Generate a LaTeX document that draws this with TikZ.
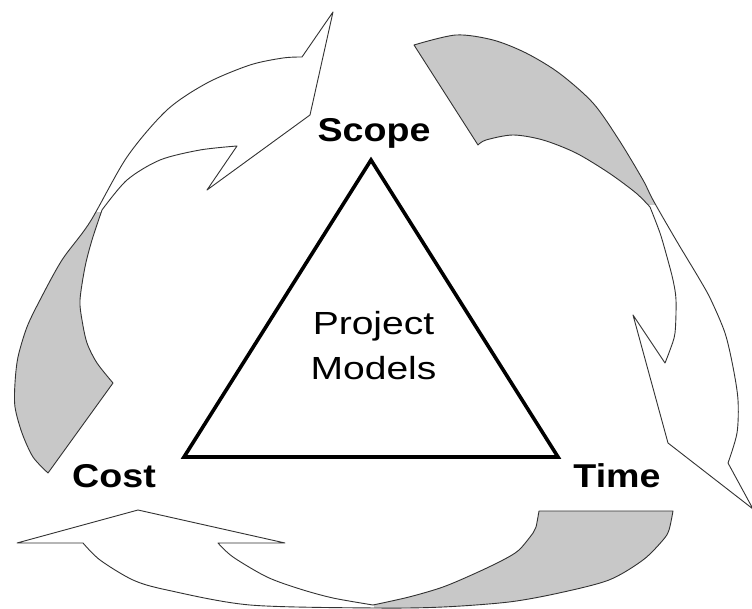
\documentclass[tikz,border=0pt]{standalone}
\usepackage{fontspec}
\setmainfont{Liberation Sans}
\newfontfamily\lblfont[FakeStretch=1.14]{Liberation Sans}
\newfontfamily\pmfont[FakeStretch=1.22]{Liberation Sans}
\definecolor{ribbongray}{RGB}{200,200,200}
\definecolor{ribbonline}{RGB}{50,50,50}
\newcommand\arrowApath{plot[smooth] coordinates {(48,473) (33,457) (22,433) (15,407) (15,383) (18,357) (27,327) (40,300) (62,260) (90,222) (127,157) (167,110) (207,83) (250,65) (283,58) (302,57)} -- (333,12) -- (310,115) -- (207,190) -- (237,146) -- plot[smooth] coordinates {(237,146) (200,150) (160,160) (127,180) (102,210)} -- plot[smooth] coordinates {(102,210) (92,240) (85,267) (80,300) (82,320) (87,343) (97,363) (113,383)} -- cycle}
\newcommand\arrowBpath{plot[smooth] coordinates {(414,45) (456,35) (493,40) (526,53) (559,73) (593,103) (619,140) (643,180) (653,200) (676,240) (700,280) (711,300) (725,333) (733,367) (738,400) (737,433) (728,463)} -- (753,509) -- (668,443) -- (633,315) -- (665,363) -- plot[smooth] coordinates {(665,363) (670,350) (675,333) (676,300) (673,280) (667,257) (660,233) (650,207)} -- plot[smooth] coordinates {(650,207) (636,193) (609,173) (576,153) (543,140) (513,135) (486,140) (478,145)} -- cycle}
\newcommand\arrowCpath{plot[smooth] coordinates {(673,511) (669,530) (663,540) (643,560) (609,580) (559,593) (509,602) (443,607) (376,608) (250,605) (167,590) (133,580) (100,560) (83,543)} -- (17,543) -- (138,510) -- (285,543) -- (218,543) -- plot[smooth] coordinates {(218,543) (233,557) (267,577) (300,589) (333,598) (373,605)} -- plot[smooth] coordinates {(373,605) (409,597) (443,587) (476,573) (503,560) (519,550) (533,533) (536,527) (539,511)} -- cycle}
\begin{document}
\begin{tikzpicture}[x=1pt,y=-1pt,
  ribbon/.style={draw=ribbonline, line width=0.9pt, line join=round},
  tri/.style={draw=black, line width=3.6pt, line join=miter},
  vtxtext/.style={anchor=base, inner sep=0pt, font=\lblfont\bfseries\fontsize{33}{40}\selectfont},
  pmtext/.style={anchor=base, inner sep=0pt, font=\pmfont\fontsize{32}{40}\selectfont}]
\useasboundingbox (0,0) rectangle (752,609);
\fill[white] (0,0) rectangle (752,609);
\begin{scope}
\clip (0,0) rectangle (752,609);
% gray (back) parts of the twisted ribbons
\begin{scope}
\clip \arrowApath;
\fill[ribbongray] (0,212) rectangle (200,500);
\end{scope}
\begin{scope}
\clip \arrowBpath;
\fill[ribbongray] (400,20) rectangle (700,205);
\end{scope}
\begin{scope}
\clip \arrowCpath;
\fill[ribbongray] (374,500) rectangle (700,620);
\end{scope}
% outlines
\draw[ribbon] \arrowApath;
\draw[ribbon] \arrowBpath;
\draw[ribbon] \arrowCpath;
\end{scope}
% triangle
\coordinate (apex) at (371,160);
\coordinate (bl) at (184,457);
\coordinate (br) at (558,457);
\draw[tri] (apex) -- (bl) -- (br) -- cycle;
% labels
\node[vtxtext] (scope) at (374,142) {Scope};
\node[vtxtext] (cost) at (114,487) {Cost};
\node[vtxtext] (time) at (617,487) {Time};
\node[pmtext] (project) at (373.5,335) {Project};
\node[pmtext] (models) at (373.5,380) {Models};
\end{tikzpicture}
\end{document}
